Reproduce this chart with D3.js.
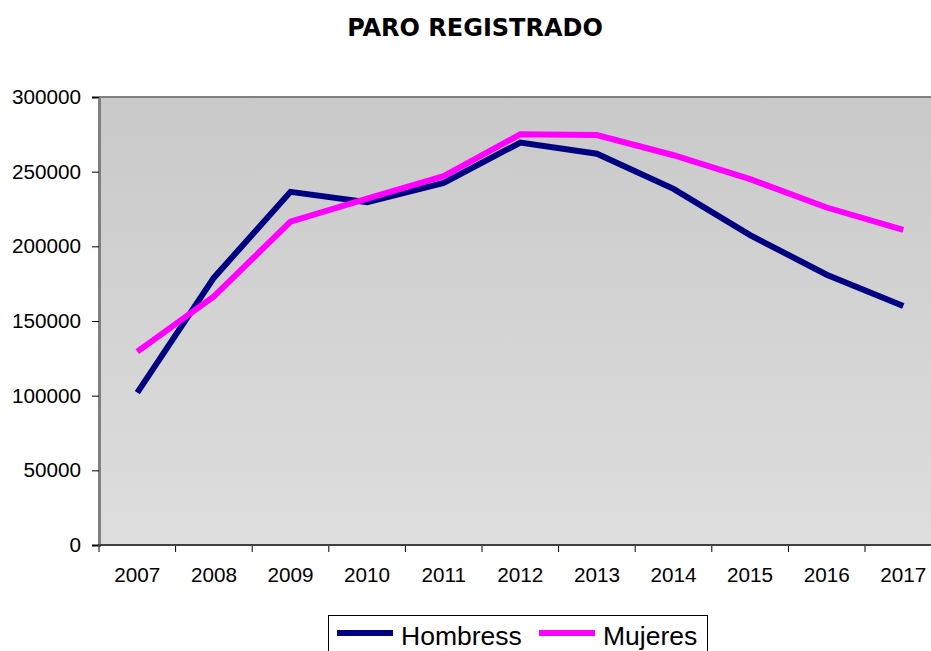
<!DOCTYPE html>
<html>
<head>
  <meta charset="utf-8">
  <title>Paro registrado</title>
  <style>
    body { margin: 0; background: #fff; }
    svg { display: block; }
    .tick text { font-family: "Liberation Sans", Arial, sans-serif; font-size: 20.7px; fill: #000; }
  </style>
</head>
<body>
  <svg width="931" height="651"></svg>
  <script src="https://cdnjs.cloudflare.com/ajax/libs/d3/7.8.5/d3.min.js"></script>
  <script>
    const years = ['2007', '2008', '2009', '2010', '2011', '2012', '2013', '2014', '2015', '2016', '2017'];
    const hombres = [102000, 179000, 236500, 229500, 242500, 269500, 262000, 238500, 207500, 181000, 160000];
    const mujeres = [129500, 166500, 216500, 232000, 247000, 275000, 274500, 261000, 245000, 226000, 211000];
    const yTicks = [0, 50000, 100000, 150000, 200000, 250000, 300000];

    const svg = d3.select('svg');
    const pLeft = 99, pTop = 97, pBottom = 545, pRight = 941.6;

    const x = d3.scaleBand().domain(years).range([pLeft, pRight]);
    const y = d3.scaleLinear().domain([0, 300000]).range([pBottom, pTop]);

    // fondo degradado del área de trazado
    const grad = svg.append('defs').append('linearGradient')
      .attr('id', 'bg').attr('x1', 0).attr('y1', 0).attr('x2', 0).attr('y2', 1);
    grad.append('stop').attr('offset', '0%').attr('stop-color', '#c9c9c9');
    grad.append('stop').attr('offset', '100%').attr('stop-color', '#dedede');

    svg.append('rect')
      .attr('x', pLeft).attr('y', pTop)
      .attr('width', pRight - pLeft).attr('height', pBottom - pTop)
      .attr('fill', 'url(#bg)');

    // borde superior
    svg.append('line')
      .attr('x1', pLeft).attr('x2', pRight).attr('y1', pTop).attr('y2', pTop)
      .attr('stroke', '#808080').attr('stroke-width', 2);

    // título
    svg.append('text')
      .attr('x', 475).attr('y', 36)
      .attr('text-anchor', 'middle')
      .style('font-family', '"DejaVu Sans", Verdana, sans-serif')
      .style('font-weight', 'bold')
      .style('font-size', '24px')
      .text('PARO REGISTRADO');

    // eje Y
    const yAxis = svg.append('g')
      .attr('transform', 'translate(' + pLeft + ',0)')
      .call(d3.axisLeft(y).tickValues(yTicks).tickSize(7).tickPadding(11).tickFormat(d3.format('d')));
    yAxis.select('.domain').attr('stroke', '#808080').attr('stroke-width', 3);
    yAxis.selectAll('.tick line').attr('stroke', '#000');

    // eje X: etiquetas en el centro, marcas entre categorías
    const xAxis = svg.append('g')
      .attr('transform', 'translate(0,' + pBottom + ')')
      .call(d3.axisBottom(x).tickSize(0).tickPadding(22));
    xAxis.select('.domain').remove();
    xAxis.selectAll('.tick line').remove();

    svg.append('g').selectAll('line')
      .data(years.concat(['end']))
      .join('line')
      .attr('x1', d => d === 'end' ? pRight : x(d))
      .attr('x2', d => d === 'end' ? pRight : x(d))
      .attr('y1', pBottom).attr('y2', pBottom + 7)
      .attr('stroke', '#000');

    svg.append('line')
      .attr('x1', pLeft - 1).attr('x2', pRight).attr('y1', pBottom).attr('y2', pBottom)
      .attr('stroke', '#404040').attr('stroke-width', 2);

    // líneas
    const series = [
      {name: 'Hombress', values: hombres, color: '#000080'},
      {name: 'Mujeres', values: mujeres, color: '#ff00ff'}
    ];
    const line = d3.line()
      .x((d, i) => x(years[i]) + x.bandwidth() / 2)
      .y(d => y(d));

    svg.append('g').selectAll('path')
      .data(series)
      .join('path')
      .attr('d', d => line(d.values))
      .attr('fill', 'none')
      .attr('stroke', d => d.color)
      .attr('stroke-width', 6)
      .attr('stroke-linejoin', 'miter')
      .attr('stroke-linecap', 'butt');

    // leyenda
    const legend = svg.append('g');
    legend.append('rect')
      .attr('x', 328.5).attr('y', 615.5)
      .attr('width', 379).attr('height', 45)
      .attr('fill', '#fff').attr('stroke', '#000');
    const items = legend.selectAll('g')
      .data(series)
      .join('g')
      .attr('transform', (d, i) => 'translate(' + (337 + i * 202) + ',0)');
    items.append('line')
      .attr('x1', 0).attr('x2', 56).attr('y1', 633).attr('y2', 633)
      .attr('stroke', d => d.color).attr('stroke-width', 6);
    items.append('text')
      .attr('x', 64).attr('y', 645)
      .style('font-family', '"Liberation Sans", Arial, sans-serif')
      .style('font-size', '26.5px')
      .text(d => d.name);
  </script>
</body>
</html>
